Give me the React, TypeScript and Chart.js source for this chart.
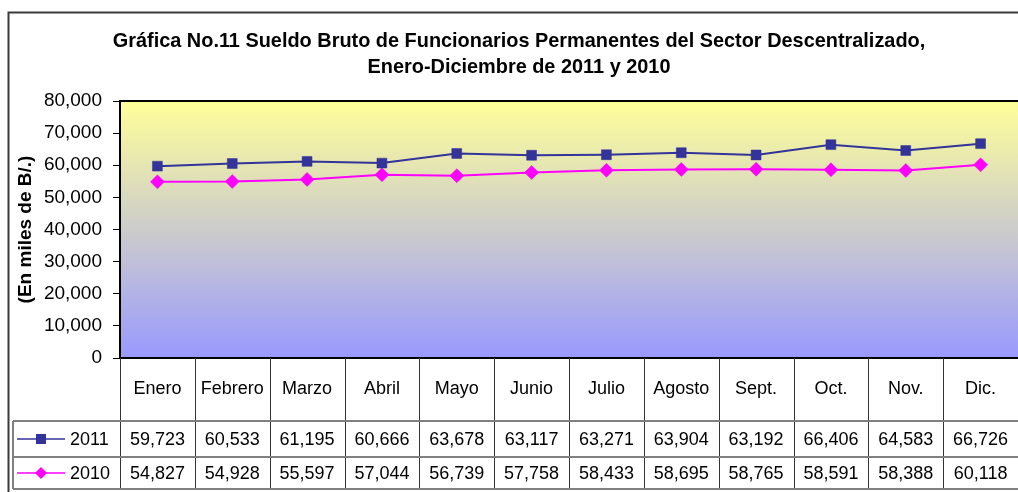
import React, { useEffect, useRef } from "react";
import { Chart, registerables } from "chart.js";

Chart.register(...registerables);

const categories = ["Enero", "Febrero", "Marzo", "Abril", "Mayo", "Junio", "Julio", "Agosto", "Sept.", "Oct.", "Nov.", "Dic."];
const series2011 = [59723, 60533, 61195, 60666, 63678, 63117, 63271, 63904, 63192, 66406, 64583, 66726];
const series2010 = [54827, 54928, 55597, 57044, 56739, 57758, 58433, 58695, 58765, 58591, 58388, 60118];
const seriesLabels = ["2011", "2010"];
const titleLines = [
  "Gráfica No.11 Sueldo Bruto de Funcionarios Permanentes del Sector Descentralizado,",
  "Enero-Diciembre de 2011 y 2010",
];
const yAxisTitle = "(En miles de B/.)";
const yMin = 0;
const yMax = 80000;
const yStep = 10000;

const NAVY = "#333399";
const MAGENTA = "#FF00FF";
const FONT = "'Liberation Sans', Arial, sans-serif";

const fmt = (v: number) => v.toLocaleString("en-US");

const tablePlugin = {
  id: "excelTable",
  beforeDraw(chart: any) {
    const { ctx, chartArea: a } = chart;
    ctx.save();
    ctx.fillStyle = "#ffffff";
    ctx.fillRect(0, 0, chart.width, chart.height);
    const g = ctx.createLinearGradient(0, a.top, 0, a.bottom);
    g.addColorStop(0, "#FFFF99");
    g.addColorStop(1, "#9999FF");
    ctx.fillStyle = g;
    ctx.fillRect(a.left, a.top, a.right - a.left, a.bottom - a.top);
    ctx.restore();
  },
  afterDraw(chart: any) {
    const { ctx, chartArea: a } = chart;
    const xs = chart.scales.x;
    ctx.save();

    // outer frame
    ctx.strokeStyle = "#3a3a3a";
    ctx.lineWidth = 2;
    ctx.strokeRect(8.5, 12.5, 1200, 1000);

    // title
    ctx.fillStyle = "#000";
    ctx.font = `bold 19.9px ${FONT}`;
    ctx.textAlign = "center";
    ctx.textBaseline = "middle";
    ctx.fillText(titleLines[0], 519, 42);
    ctx.fillText(titleLines[1], 519, 68);

    // plot border (top & bottom)
    ctx.strokeStyle = "#000";
    ctx.lineWidth = 2;
    ctx.beginPath();
    ctx.moveTo(a.left - 1, a.top);
    ctx.lineTo(chart.width, a.top);
    ctx.moveTo(a.left - 1, a.bottom);
    ctx.lineTo(chart.width, a.bottom);
    ctx.stroke();

    // table geometry
    const rowTop1 = 421;
    const rowTop2 = 457;
    const tableBottom = 489;
    const legendLeft = 13;
    const bounds: number[] = [];
    for (let i = 0; i < categories.length; i++) bounds.push(xs.getPixelForValue(i - 0.5));

    // vertical separators
    ctx.strokeStyle = "#333";
    ctx.lineWidth = 1;
    ctx.beginPath();
    for (let i = 0; i < bounds.length; i++) {
      const bx = Math.round(bounds[i]) + 0.5;
      ctx.moveTo(bx, a.bottom);
      ctx.lineTo(bx, tableBottom);
    }
    ctx.stroke();

    // horizontal separators
    ctx.strokeStyle = "#808080";
    ctx.lineWidth = 2;
    ctx.beginPath();
    [rowTop1, rowTop2, tableBottom].forEach((y) => {
      ctx.moveTo(legendLeft, y);
      ctx.lineTo(chart.width, y);
    });
    ctx.moveTo(legendLeft, rowTop1);
    ctx.lineTo(legendLeft, tableBottom);
    ctx.stroke();

    // texts
    ctx.fillStyle = "#000";
    ctx.font = `18px ${FONT}`;
    ctx.textAlign = "center";
    ctx.textBaseline = "middle";
    const c1 = (a.bottom + rowTop1) / 2;
    const c2 = (rowTop1 + rowTop2) / 2 + 1;
    const c3 = (rowTop2 + tableBottom) / 2 + 1;
    categories.forEach((c, i) => {
      const cx = xs.getPixelForValue(i);
      ctx.fillText(c, cx, c1);
      ctx.fillText(fmt(series2011[i]), cx, c2);
      ctx.fillText(fmt(series2010[i]), cx, c3);
    });

    // legend keys
    const drawKey = (cy: number, color: string, shape: string, label: string) => {
      ctx.strokeStyle = color;
      ctx.lineWidth = 1.5;
      ctx.beginPath();
      ctx.moveTo(17, cy);
      ctx.lineTo(65, cy);
      ctx.stroke();
      ctx.fillStyle = color;
      if (shape === "square") {
        ctx.fillRect(36, cy - 5, 10, 10);
      } else {
        ctx.beginPath();
        ctx.moveTo(41, cy - 6);
        ctx.lineTo(47, cy);
        ctx.lineTo(41, cy + 6);
        ctx.lineTo(35, cy);
        ctx.closePath();
        ctx.fill();
      }
      ctx.fillStyle = "#000";
      ctx.textAlign = "left";
      ctx.fillText(label, 70, cy + 1);
    };
    drawKey(c2 - 1, NAVY, "square", seriesLabels[0]);
    drawKey(c3 - 1, MAGENTA, "diamond", seriesLabels[1]);

    ctx.restore();
  },
};

export default function App() {
  const ref = useRef<HTMLCanvasElement | null>(null);
  useEffect(() => {
    if (!ref.current) return;
    const chart = new Chart(ref.current, {
      type: "line",
      data: {
        labels: categories,
        datasets: [
          {
            label: seriesLabels[0],
            data: series2011,
            borderColor: NAVY,
            backgroundColor: NAVY,
            borderWidth: 2,
            pointStyle: "rect",
            pointRadius: 7,
            pointBorderWidth: 0.5,
            tension: 0,
          },
          {
            label: seriesLabels[1],
            data: series2010,
            borderColor: MAGENTA,
            backgroundColor: MAGENTA,
            borderWidth: 2,
            pointStyle: "rectRot",
            pointRadius: 7,
            pointBorderWidth: 0.5,
            tension: 0,
          },
        ],
      },
      options: {
        responsive: false,
        animation: false,
        layout: { autoPadding: false, padding: { top: 101, bottom: 134, left: 0, right: 0 } },
        plugins: {
          legend: { display: false },
          title: { display: false },
          tooltip: { enabled: false },
        },
        scales: {
          x: {
            type: "category",
            display: false,
            offset: true,
          },
          y: {
            min: yMin,
            max: yMax,
            afterFit: (s: any) => {
              s.width = 120;
            },
            ticks: {
              stepSize: yStep,
              padding: 11,
              color: "#000",
              font: { family: FONT, size: 19 },
              callback: (v: any) => fmt(Number(v)),
            },
            grid: {
              drawOnChartArea: false,
              drawTicks: true,
              tickLength: 7,
              color: "#000",
            },
            border: { display: true, color: "#000", width: 2 },
            title: {
              display: true,
              text: yAxisTitle,
              color: "#000",
              font: { family: FONT, size: 19, weight: "bold" },
              padding: { top: 14, bottom: 0 },
            },
          },
        },
      },
      plugins: [tablePlugin],
    });
    return () => chart.destroy();
  }, []);
  return (
    <div style={{ position: "fixed", left: 0, top: 0, width: 1018, height: 492, overflow: "hidden", background: "#fff" }}>
      <canvas ref={ref} width={1018} height={492} style={{ display: "block" }} />
    </div>
  );
}
